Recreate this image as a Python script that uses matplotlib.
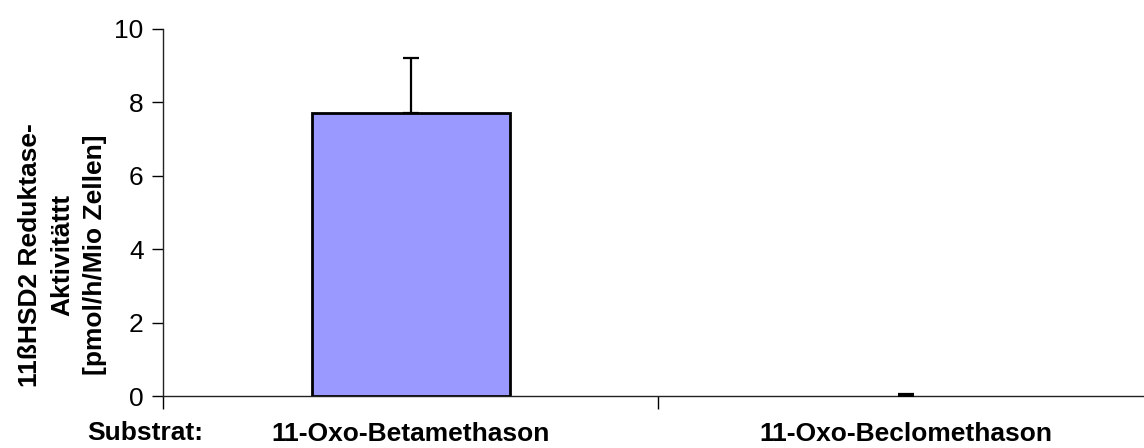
import numpy as np
import matplotlib
matplotlib.use('Agg')
import matplotlib.pyplot as plt

plt.rcParams['font.family'] = ['Liberation Sans', 'DejaVu Sans']

categories = ['11-Oxo-Betamethason', '11-Oxo-Beclomethason']
values = [7.7, 0.0]
err_up = [1.52, 0.05]
ylabel = '11ßHSD2 Reduktase-\nAktivitättt\n[pmol/h/Mio Zellen]'

fig = plt.figure(figsize=(11.44, 4.48), dpi=100)
W, H = 1144.0, 448.0
ax = fig.add_axes([163 / W, 1 - 396 / H, 990 / W, 367 / H])

x = np.arange(len(categories))
edge_w = [2 if v > 0 else 0 for v in values]
ax.bar(x, values, width=0.4, color='#9999ff', edgecolor='black', linewidth=edge_w, zorder=2)
ax.errorbar(x, values, yerr=[np.zeros(len(values)), err_up], fmt='none',
            ecolor='black', elinewidth=1.6, capsize=6, capthick=1.6, zorder=3)

ax.set_xlim(-0.5, len(categories) - 0.5)
ax.set_ylim(0, 10)
ax.set_yticks(np.arange(0, 11, 2))
ax.tick_params(axis='y', labelsize=19, length=8, width=1, pad=6, direction='out')

# category boundary ticks, labels centred under the bars
ax.set_xticks(np.arange(-0.5, len(categories), 1.0))
ax.set_xticklabels([])
ax.tick_params(axis='x', which='major', length=9, width=1, direction='out')
ax.set_xticks(x, minor=True)
ax.set_xticklabels(categories, minor=True, fontsize=19, fontweight='bold')
ax.tick_params(axis='x', which='minor', length=0, pad=19)

for s in ['top', 'right']:
    ax.spines[s].set_visible(False)
for s in ['left', 'bottom']:
    ax.spines[s].set_linewidth(1)
    ax.spines[s].set_color('#222222')

ax.set_ylabel(ylabel, fontsize=19, fontweight='bold', linespacing=1.45)
ax.yaxis.set_label_coords((107 - 163) / 990, 0.384)

fig.text(87 / W, 1 - 433 / H, 'Substrat:', fontsize=19, fontweight='bold', va='center', ha='left')

fig.savefig('out.png', dpi=100)
